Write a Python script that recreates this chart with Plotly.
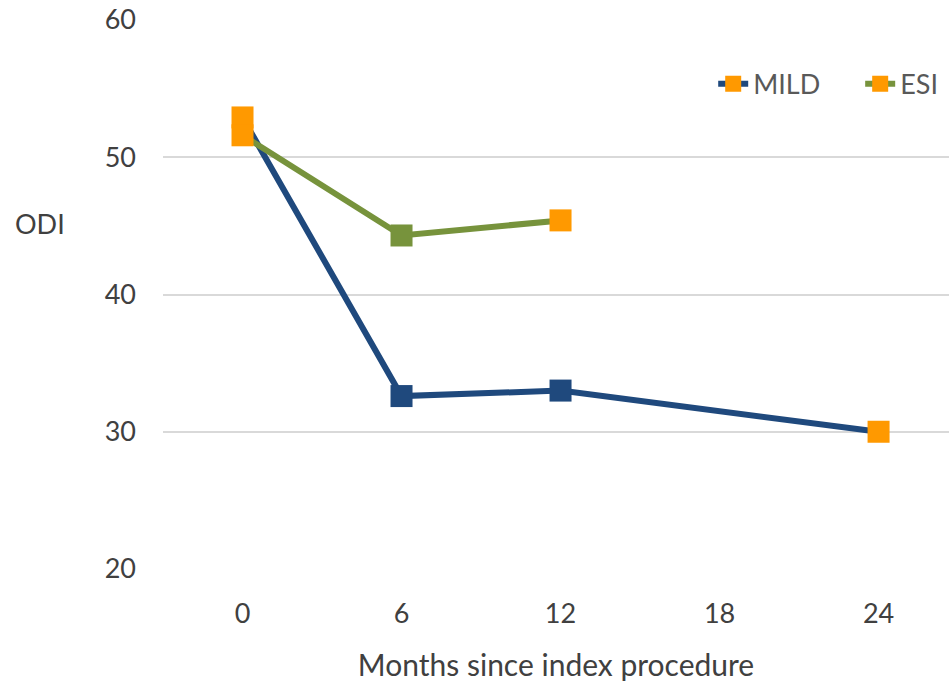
import plotly.graph_objects as go

months = ["0", "6", "12", "18", "24"]
mild = [52.9, 32.6, 33.0, None, 30.0]
esi = [51.6, 44.3, 45.4, None, None]

BLUE = "#1F497D"
GREEN = "#77933C"
ORANGE = "#FF9900"

mild_marker_colors = [ORANGE, BLUE, BLUE, BLUE, ORANGE]
esi_marker_colors = [ORANGE, GREEN, ORANGE, GREEN, GREEN]

FONT = "Lato"
FS = 27

fig = go.Figure()
fig.add_trace(go.Scatter(
    x=months, y=mild, name="MILD", mode="lines+markers", connectgaps=True,
    line=dict(color=BLUE, width=6),
    marker=dict(symbol="square", size=22, color=mild_marker_colors),
    legend="legend",
))
fig.add_trace(go.Scatter(
    x=months, y=esi, name="ESI", mode="lines+markers", connectgaps=True,
    line=dict(color=GREEN, width=6),
    marker=dict(symbol="square", size=22, color=esi_marker_colors),
    legend="legend2",
))

legend_common = dict(
    orientation="h", yanchor="middle", xanchor="left",
    font=dict(family=FONT, size=FS, color="#595959"),
    bgcolor="rgba(0,0,0,0)",
)

fig.update_layout(
    width=949, height=683,
    margin=dict(l=163, r=0, t=20, b=114),
    paper_bgcolor="white", plot_bgcolor="white",
    font=dict(family=FONT, size=FS, color="#404040"),
    showlegend=True,
    legend=dict(x=0.700, y=0.883, **legend_common),
    legend2=dict(x=0.887, y=0.883, **legend_common),
    xaxis=dict(
        type="category", range=[-0.5, 4.443],
        showgrid=False, zeroline=False, showline=False,
        ticks="", ticklabelstandoff=26,
        tickfont=dict(family=FONT, size=FS, color="#404040"),
        title=dict(text="Months since index procedure", standoff=26,
                   font=dict(family=FONT, size=30, color="#404040")),
    ),
    yaxis=dict(
        range=[20, 60], tickvals=[20, 30, 40, 50, 60],
        showgrid=True, gridcolor="#D9D9D9", gridwidth=2,
        zeroline=False, showline=False, ticks="",
        ticklabelstandoff=26,
        tickfont=dict(family=FONT, size=FS, color="#404040"),
    ),
    annotations=[dict(
        text="ODI", xref="paper", yref="paper", x=-0.191, y=0.630,
        xanchor="left", yanchor="middle", showarrow=False,
        font=dict(family=FONT, size=FS, color="#404040"),
    )],
)

fig.write_html("out.html")
